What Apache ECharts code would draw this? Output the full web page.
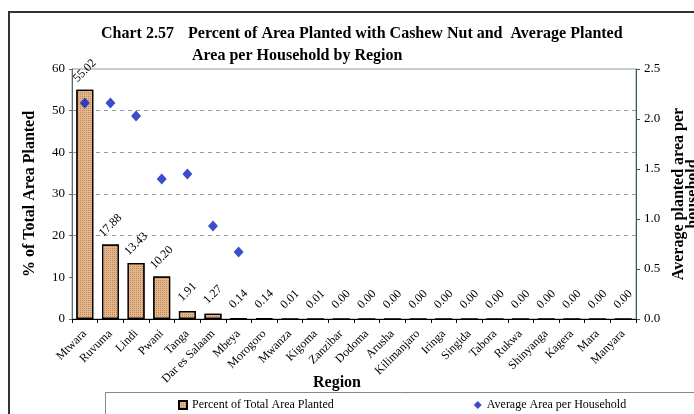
<!DOCTYPE html>
<html>
<head>
<meta charset="utf-8">
<script src="https://cdn.jsdelivr.net/npm/echarts@6/dist/echarts.min.js"></script>
<style>
html,body{margin:0;padding:0;background:#fff;}
#chart{width:694px;height:414px;}
</style>
</head>
<body>
<div id="chart"></div>
<script>
const regions = ['Mtwara','Ruvuma','Lindi','Pwani','Tanga','Dar es Salaam','Mbeya','Morogoro','Mwanza','Kigoma','Zanzibar','Dodoma','Arusha','Kilimanjaro','Iringa','Singida','Tabora','Rukwa','Shinyanga','Kagera','Mara','Manyara'];
const percentPlanted = [55.02,17.88,13.43,10.20,1.91,1.27,0.14,0.14,0.01,0.01,0.00,0.00,0.00,0.00,0.00,0.00,0.00,0.00,0.00,0.00,0.00,0.00];
const avgArea = [2.16,2.16,2.03,1.40,1.45,0.93,0.67,null,null,null,null,null,null,null,null,null,null,null,null,null,null,null];
const leftTicks = {min:0, max:60, interval:10};
const rightTicks = {min:0, max:2.5, interval:0.5};

const FONT = 'Liberation Serif';
const chart = echarts.init(document.getElementById('chart'));
chart.setOption({
  backgroundColor:'#fff',
  animation:false,
  textStyle:{fontFamily:FONT,color:'#000'},
  title:[
    {text:'Chart 2.57',left:101,top:26,padding:0,textStyle:{fontFamily:FONT,fontSize:16,fontWeight:'bold',color:'#000'}},
    {text:'Percent of Area Planted with Cashew Nut and  Average Planted',left:188,top:26,padding:0,textStyle:{fontFamily:FONT,fontSize:16,fontWeight:'bold',color:'#000'}},
    {text:'Area per Household by Region',left:192,top:48,padding:0,textStyle:{fontFamily:FONT,fontSize:16,fontWeight:'bold',color:'#000'}}
  ],
  graphic:[
    {type:'rect',shape:{x:9,y:12,width:700,height:420},style:{fill:'none',stroke:'#333',lineWidth:2},z:-1},
    {type:'rect',shape:{x:105.5,y:392.5,width:620,height:50},style:{fill:'#fff',stroke:'#888',lineWidth:1},z:-1},
    {type:'text',left:313,top:375,style:{text:'Region',font:'bold 16px "Liberation Serif"',fill:'#000'}}
  ],
  legend:{
    left:178,top:399,itemGap:140,itemWidth:8,itemHeight:8,padding:0,
    textStyle:{fontFamily:FONT,fontSize:12,color:'#000'},
    data:[
      {name:'Percent of Total Area Planted',icon:'rect'},
      {name:'Average Area per Household',icon:'diamond'}
    ]
  },
  grid:{left:72,right:58,top:69,bottom:95,show:true,borderColor:'#8a9a9a',borderWidth:1,containLabel:false,outerBoundsMode:'none'},
  xAxis:{
    type:'category',data:regions,
    axisLine:{lineStyle:{color:'#000',width:1}},
    axisTick:{show:true,length:4,lineStyle:{color:'#000'},alignWithLabel:false},
    axisLabel:{rotate:45,fontFamily:FONT,fontSize:12,color:'#000',margin:13,interval:0}
  },
  yAxis:[
    {type:'value',min:leftTicks.min,max:leftTicks.max,interval:leftTicks.interval,
     name:'% of Total Area Planted',nameLocation:'middle',nameGap:34,
     nameTextStyle:{fontFamily:FONT,fontSize:16,fontWeight:'bold',color:'#000'},
     axisLine:{show:true,lineStyle:{color:'#5a6a6a'}},
     axisTick:{show:true,length:3,lineStyle:{color:'#5a6a6a'}},
     axisLabel:{fontFamily:FONT,fontSize:13,color:'#000',margin:7},
     splitLine:{show:true,lineStyle:{type:[4,4],color:['transparent','transparent','#999','#999','#999','#999','transparent']}}
    },
    {type:'value',min:rightTicks.min,max:rightTicks.max,interval:rightTicks.interval,
     name:'Average planted area per\nhousehold',nameLocation:'middle',nameGap:36,nameRotate:90,
     nameTextStyle:{fontFamily:FONT,fontSize:16,fontWeight:'bold',color:'#000',lineHeight:14},
     axisLine:{show:true,lineStyle:{color:'#3f5555'}},
     axisTick:{show:true,length:4,lineStyle:{color:'#3f5555'}},
     axisLabel:{fontFamily:FONT,fontSize:13,color:'#000',margin:8,formatter:v=>v.toFixed(1)},
     splitLine:{show:false}
    }
  ],
  series:[
    {name:'Percent of Total Area Planted',type:'bar',yAxisIndex:0,data:percentPlanted,barWidth:'66%',
     itemStyle:{color:'#E4B68C',borderColor:'#000',borderWidth:1.2,
       decal:{symbol:'rect',symbolSize:1,dashArrayX:[1,1],dashArrayY:[1,1],color:'rgba(140,80,30,0.45)',rotation:0}},
     label:{show:true,position:'top',rotate:45,align:'center',verticalAlign:'middle',distance:19,
       fontFamily:FONT,fontSize:12,color:'#000',formatter:p=>p.value.toFixed(2)}
    },
    {name:'Average Area per Household',type:'scatter',yAxisIndex:1,data:avgArea,symbol:'diamond',symbolSize:[10,11],
     itemStyle:{color:'#0A20C0'},z:3}
  ]
});
</script>
</body>
</html>
